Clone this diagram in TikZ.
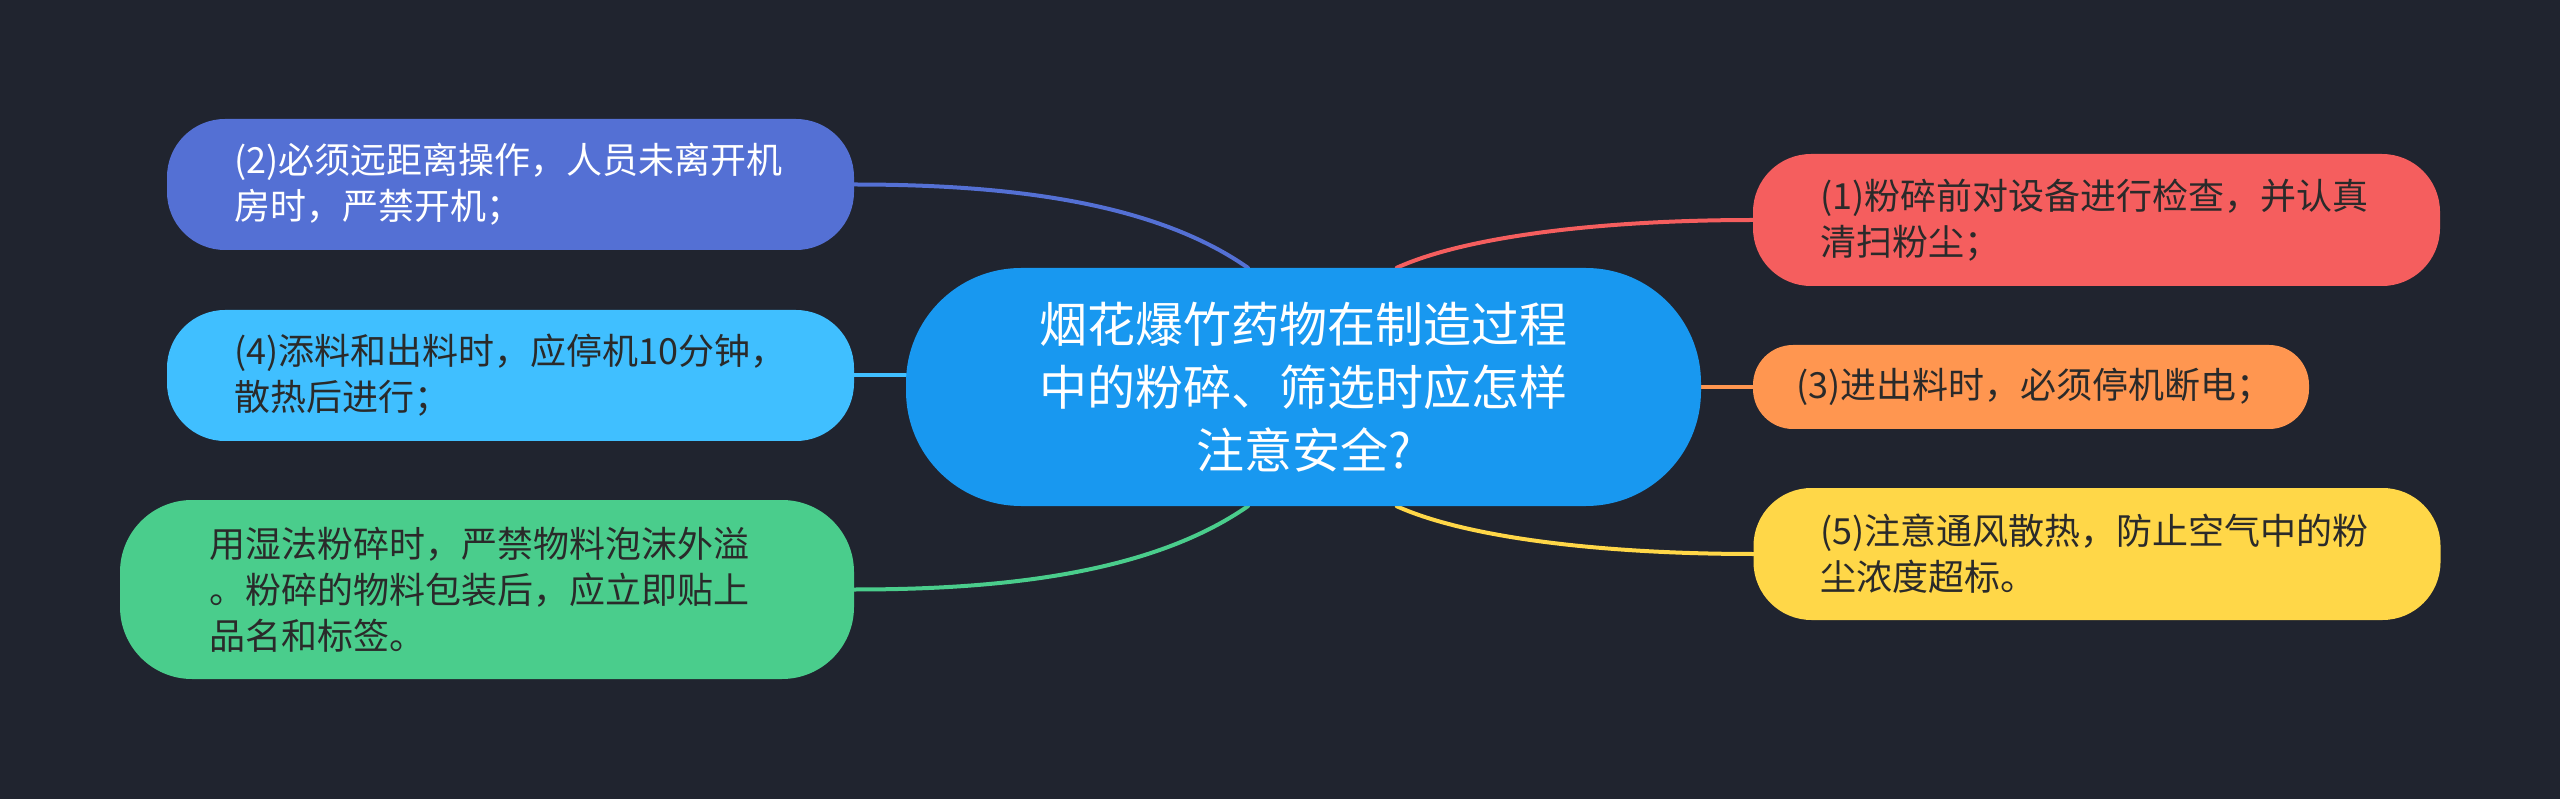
\documentclass[tikz,border=0pt]{standalone}
\usepackage{fontspec}
\setmainfont{Noto Sans CJK SC}
\usepackage{xcolor}
\usepackage{tikz}
\usetikzlibrary{backgrounds}

\definecolor{bgdark}{HTML}{20242F}
\definecolor{rootblue}{HTML}{1898F0}
\definecolor{indigo}{HTML}{5470D4}
\definecolor{skyblue}{HTML}{40BFFF}
\definecolor{mint}{HTML}{4ACD8C}
\definecolor{coral}{HTML}{F55E5E}
\definecolor{amber}{HTML}{FF9650}
\definecolor{sunny}{HTML}{FFD748}
\definecolor{inkdark}{HTML}{2A2A2A}

\tikzset{
  root/.style={rectangle, rounded corners=115pt, fill=rootblue, text=white,
    minimum width=795pt, minimum height=238pt, inner sep=0pt, align=center,
    font=\fontsize{48}{63}\selectfont},
  topic/.style={rectangle, inner ysep=0pt, align=left, text=inkdark,
    font=\fontsize{36}{46}\selectfont},
  link/.style={line width=4pt, line cap=round},
}

\begin{document}
\begin{tikzpicture} [x=1pt, y=-1pt]

        \useasboundingbox (0,0) rectangle (2560,799);

        % central question
        \node[root] (root) at (1303.5,387)
            {烟花爆竹药物在制造过程\\中的粉碎、筛选时应怎样\\注意安全?};

        % left branches
        \node[topic, fill=indigo, text=white, rounded corners=58pt,
              text width=553pt, inner xsep=67pt, minimum height=131pt]
            (n2) at (510.5,184.5) {(2)必须远距离操作，人员未离开机\\房时，严禁开机；};
        \node[topic, fill=skyblue, rounded corners=58pt,
              text width=553pt, inner xsep=67pt, minimum height=131pt]
            (n4) at (510.5,375.5) {(4)添料和出料时，应停机10分钟，\\散热后进行；};
        \node[topic, fill=mint, rounded corners=72pt,
              text width=556pt, inner xsep=89pt, minimum height=179pt]
            (wet) at (487,589.5) {用湿法粉碎时，严禁物料泡沫外溢\\。粉碎的物料包装后，应立即贴上\\品名和标签。};

        % right branches
        \node[topic, fill=coral, rounded corners=58pt,
              text width=553pt, inner xsep=67pt, minimum height=132pt]
            (n1) at (2096.5,220) {(1)粉碎前对设备进行检查，并认真\\清扫粉尘；};
        \node[topic, fill=amber, rounded corners=40pt,
              text width=470pt, inner xsep=43pt, minimum height=84pt]
            (n3) at (2031,387) {(3)进出料时，必须停机断电；};
        \node[topic, fill=sunny, rounded corners=58pt,
              text width=553pt, inner xsep=67pt, minimum height=132pt]
            (n5) at (2097,554) {(5)注意通风散热，防止空气中的粉\\尘浓度超标。};

        % connectors behind the nodes
        \begin{scope}[on background layer]
          \fill[bgdark] (0,0) rectangle (2560,799);
          \draw[link, indigo] (n2.east) .. controls +(146,0) and +(-97,-68) .. (root.115);
          \draw[link, skyblue] (n4.east) -- (n4.east -| root.west);
          \draw[link, mint] (wet.east) .. controls +(146,0) and +(-98,68) .. (root.245);
          \draw[link, coral] (n1.west) .. controls +(-143,0) and +(73,-33) .. (root.52);
          \draw[link, amber] (root.east) -- (n3.west);
          \draw[link, sunny] (n5.west) .. controls +(-143,0) and +(73,33) .. (root.308);
        \end{scope}

\end{tikzpicture}
\end{document}
